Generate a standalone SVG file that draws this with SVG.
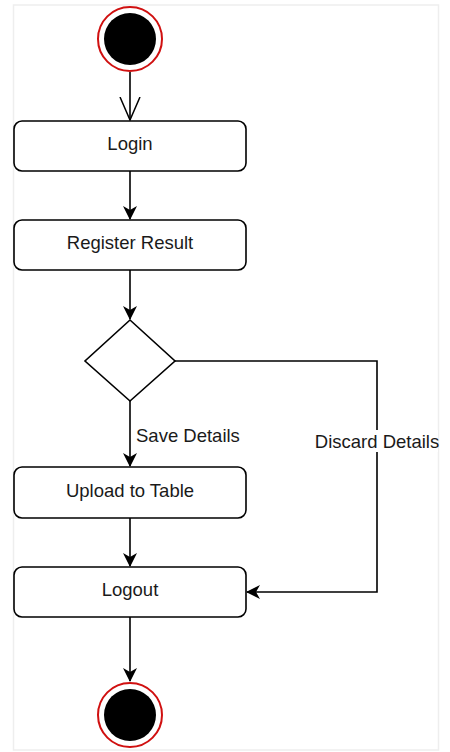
<svg xmlns="http://www.w3.org/2000/svg" width="450" height="752" viewBox="0 0 450 752">
<style>
.node{fill:#ffffff;stroke:#000000;stroke-width:1.6}
.lbl{font-family:"Liberation Sans",Arial,sans-serif;font-size:18.5px;fill:#1a1a1a;text-anchor:middle;dominant-baseline:central}
.edge{fill:none;stroke:#000000;stroke-width:1.6}
.ring{fill:#ffffff;stroke:#d01010;stroke-width:2}
.dot{fill:#000000}
</style>
<defs>
<marker id="arr" viewBox="0 0 14 14" refX="13" refY="7" markerWidth="14" markerHeight="14" markerUnits="userSpaceOnUse" orient="auto">
<path d="M0,0 L14,7 L0,14 L4,7 Z" fill="#000000"/>
</marker>
<marker id="open" viewBox="0 0 24 22" refX="23" refY="11" markerWidth="24" markerHeight="22" markerUnits="userSpaceOnUse" orient="auto">
<path d="M0,1 L23,11 L0,21" fill="none" stroke="#000000" stroke-width="1.5"/>
</marker>
</defs>
<rect x="13.5" y="5" width="425" height="745" fill="#ffffff" stroke="#eeeeee" stroke-width="1.5"/>
<g id="connectors">
<path class="edge" d="M130,72 L130,120" marker-end="url(#open)"/>
<path class="edge" d="M130,171 L130,219" marker-end="url(#arr)"/>
<path class="edge" d="M130,270 L130,319" marker-end="url(#arr)"/>
<path class="edge" d="M130,401 L130,466" marker-end="url(#arr)"/>
<path class="edge" d="M175,361 L377,361 L377,592 L247,592" marker-end="url(#arr)"/>
<path class="edge" d="M130,518 L130,566" marker-end="url(#arr)"/>
<path class="edge" d="M130,617 L130,681" marker-end="url(#arr)"/>
<text class="lbl" x="136" y="435" style="text-anchor:start">Save Details</text>
<rect x="316" y="430" width="122" height="22" fill="#ffffff"/>
<text class="lbl" x="377" y="441">Discard Details</text>
</g>
<g id="start">
<circle class="ring" cx="130" cy="39" r="32"/>
<circle class="dot" cx="130" cy="39" r="26"/>
</g>
<g id="login">
<rect class="node" x="14" y="121" width="232" height="50" rx="8"/>
<text class="lbl" x="130" y="143">Login</text>
</g>
<g id="register">
<rect class="node" x="14" y="220" width="232" height="50" rx="8"/>
<text class="lbl" x="130" y="242">Register Result</text>
</g>
<g id="decision">
<path class="node" d="M130,320 L175,361 L130,401 L85,361 Z"/>
</g>
<g id="upload">
<rect class="node" x="14" y="467" width="232" height="51" rx="8"/>
<text class="lbl" x="130" y="490">Upload to Table</text>
</g>
<g id="logout">
<rect class="node" x="14" y="567" width="232" height="50" rx="8"/>
<text class="lbl" x="130" y="589">Logout</text>
</g>
<g id="end">
<circle class="ring" cx="130" cy="715" r="32"/>
<circle class="dot" cx="130" cy="715" r="26"/>
</g>
</svg>
